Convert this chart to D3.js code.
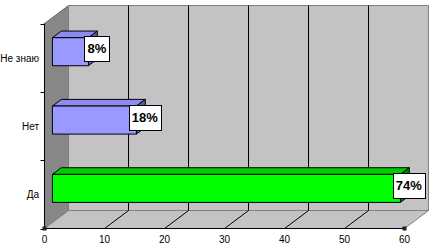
<!DOCTYPE html>
<html>
<head>
<meta charset="utf-8">
<script src="https://cdn.jsdelivr.net/npm/d3@7"></script>
<style>
  body { margin: 0; background: #fff; }
  text { font-family: Arial, "Liberation Sans", sans-serif; }
</style>
</head>
<body>
<div id="chart"></div>
<script>
const width = 434;
const height = 249;

// chart values
const categories = ["Не знаю", "Нет", "Да"];
const values = [6, 14, 58];
const valueLabels = ["8%", "18%", "74%"];
const ticks = [0, 10, 20, 30, 40, 50, 60];

const frontColors = ["#9999ff", "#9999ff", "#00ff00"];
const topColors = ["#8c8cf0", "#8c8cf0", "#00cc00"];
const sideColors = ["#5c5ca8", "#5c5ca8", "#008800"];

// depth of the 3d box
const depthX = 24, depthY = -18;
const d1 = 0.33, d2 = 0.7;

var svg = d3.select("#chart")
    .append("svg")
    .attr("width", width)
    .attr("height", height);

const x = d3.scaleLinear().domain([0, 60]).range([44.5, 404.5]);
const y = d3.scaleBand().domain(categories).range([23.5, 228.5]);

function p(v, yy, d) {
    return [x(v) + depthX * d, yy + depthY * d];
}
const line = d3.line();

const y0 = y.range()[0], y1 = y.range()[1];

// left wall
svg.append("path")
    .attr("d", line([p(0, y0, 0), p(0, y0, 1), p(0, y1, 1), p(0, y1, 0)]) + "Z")
    .attr("fill", "#878787")
    .attr("stroke", "#6a6a6a");

// back wall
svg.append("path")
    .attr("d", line([p(0, y0, 1), p(60, y0, 1), p(60, y1, 1), p(0, y1, 1)]) + "Z")
    .attr("fill", "#c4c2c4")
    .attr("stroke", "#808080");

// floor
svg.append("path")
    .attr("d", line([p(0, y1, 0), p(0, y1, 1), p(60, y1, 1), p(60, y1, 0)]) + "Z")
    .attr("fill", "#c4c2c4")
    .attr("stroke", "#808080");

// gridlines on back wall and floor
ticks.slice(1, -1).forEach(t => {
    svg.append("path")
        .attr("d", line([p(t, y0, 1), p(t, y1, 1), p(t, y1, 0)]))
        .attr("fill", "none")
        .attr("stroke", "#000")
        .attr("stroke-width", 1);
});

// axes
svg.append("line")
    .attr("x1", x(0)).attr("x2", x(0))
    .attr("y1", y0).attr("y2", y1)
    .attr("stroke", "#000");
svg.append("line")
    .attr("x1", x(0)).attr("x2", x(60))
    .attr("y1", y1).attr("y2", y1)
    .attr("stroke", "#000");

// category ticks
const catTicks = [y0].concat(categories.map(c => y(c) + y.bandwidth()));
catTicks.forEach(t => {
    svg.append("line")
        .attr("x1", x(0) - 4).attr("x2", x(0))
        .attr("y1", Math.round(t) + 0.5).attr("y2", Math.round(t) + 0.5)
        .attr("stroke", "#000");
});

// little corner handles
const corners = [0, 60];
corners.forEach(t => {
    svg.append("rect")
        .attr("x", x(t) - 2).attr("y", y1 - 2)
        .attr("width", 4).attr("height", 4)
        .attr("fill", "#222");
});

svg.selectAll(".xlab")
    .data(ticks)
    .join("text")
    .attr("class", "xlab")
    .attr("x", d => x(d))
    .attr("y", 243)
    .attr("text-anchor", "middle")
    .attr("font-size", 10)
    .text(d => d);

svg.selectAll(".ylab")
    .data(categories)
    .join("text")
    .attr("class", "ylab")
    .attr("x", 39)
    .attr("y", d => y(d) + y.bandwidth() / 2 + 4)
    .attr("text-anchor", "end")
    .attr("font-size", 10)
    .text(d => d);

// bars
const barH = y.bandwidth() * 0.41;
categories.forEach((c, i) => {
    const v = values[i];
    const cy = y(c) + y.bandwidth() / 2;
    const top = cy - barH / 2, bot = cy + barH / 2;
    const g = svg.append("g");

    g.append("path")
        .attr("d", line([p(0, top, d1), p(v, top, d1), p(v, top, d2), p(0, top, d2)]) + "Z")
        .attr("fill", topColors[i])
        .attr("stroke", "#000")
        .attr("stroke-linejoin", "round");
    g.append("path")
        .attr("d", line([p(v, top, d1), p(v, top, d2), p(v, bot, d2), p(v, bot, d1)]) + "Z")
        .attr("fill", sideColors[i])
        .attr("stroke", "#000")
        .attr("stroke-linejoin", "round");
    g.append("path")
        .attr("d", line([p(0, top, d1), p(v, top, d1), p(v, bot, d1), p(0, bot, d1)]) + "Z")
        .attr("fill", frontColors[i])
        .attr("stroke", "#000");

    // value label box
    const dm = (d1 + d2) / 2;
    const [lx, ly] = p(v, cy, dm);
    const txt = g.append("text")
        .attr("x", lx + 4)
        .attr("y", ly + 5)
        .attr("text-anchor", "middle")
        .attr("font-size", 13)
        .attr("font-weight", "bold")
        .text(valueLabels[i]);
    const bb = txt.node().getBBox();
    g.insert("rect", "text")
        .attr("x", Math.round(bb.x - 3) + 0.5)
        .attr("y", Math.round(ly - 12) + 0.5)
        .attr("width", Math.round(bb.width + 6))
        .attr("height", 25)
        .attr("fill", "#fff")
        .attr("stroke", "#000");
});
</script>
</body>
</html>
